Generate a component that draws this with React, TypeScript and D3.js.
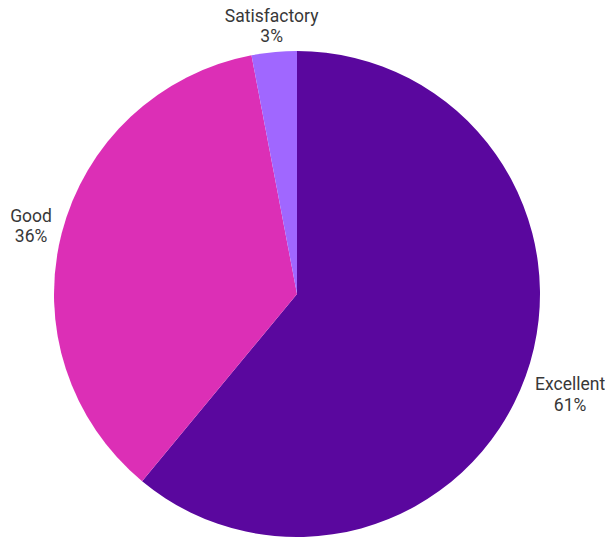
import React from "react";
import * as d3 from "d3";

const categories = ["Excellent", "Good", "Satisfactory"];
const values = [61, 36, 3];
const colors = ["#5A079E", "#DC2FB6", "#A067FF"];

const W = 605;
const H = 539;
const cx = 297;
const cy = 294;
const R = 243;
const fontSize = 17.5;
const lineH = 20.5;
const FONT = "Roboto, 'Noto Sans', sans-serif";

let ctx: CanvasRenderingContext2D | null = null;
function measure(s: string): number {
  if (!ctx) {
    const c = document.createElement("canvas");
    ctx = c.getContext("2d");
  }
  if (!ctx) return s.length * fontSize * 0.55;
  ctx.font = `${fontSize}px ${FONT}`;
  return ctx.measureText(s).width;
}

export default function App() {
  const pie = d3.pie<number>().sort(null).value((d) => d)(values);
  const arc = d3.arc<d3.PieArcDatum<number>>().innerRadius(0).outerRadius(R);
  const capH = fontSize * 0.711;

  return (
    <svg
      width={W}
      height={H}
      style={{ position: "absolute", left: 0, top: 0, background: "#fff" }}
      fontFamily={FONT}
    >
      <g transform={`translate(${cx},${cy})`}>
        {pie.map((p, i) => (
          <path key={categories[i]} d={arc(p) || ""} fill={colors[i]} />
        ))}
        {pie.map((p, i) => {
          const mid = (p.startAngle + p.endAngle) / 2;
          const sx = Math.sin(mid);
          const sy = -Math.cos(mid);
          const pr = R + 10;
          const px = sx * pr;
          const py = sy * pr;
          const l1 = categories[i];
          const l2 = values[i] + "%";
          const w = Math.max(measure(l1), measure(l2));
          const h = capH + lineH;
          const t = Math.min(
            Math.abs(sx) > 1e-6 ? w / 2 / Math.abs(sx) : Infinity,
            Math.abs(sy) > 1e-6 ? h / 2 / Math.abs(sy) : Infinity
          );
          const bx = px + sx * t;
          const by = py + sy * t + (sy > 0 ? 2 : 0);
          const base1 = by - h / 2 + capH;
          return (
            <g key={"l" + i} fontSize={fontSize} fill="#383838" textAnchor="middle">
              <text x={bx} y={base1}>{l1}</text>
              <text x={bx} y={base1 + lineH}>{l2}</text>
            </g>
          );
        })}
      </g>
    </svg>
  );
}
